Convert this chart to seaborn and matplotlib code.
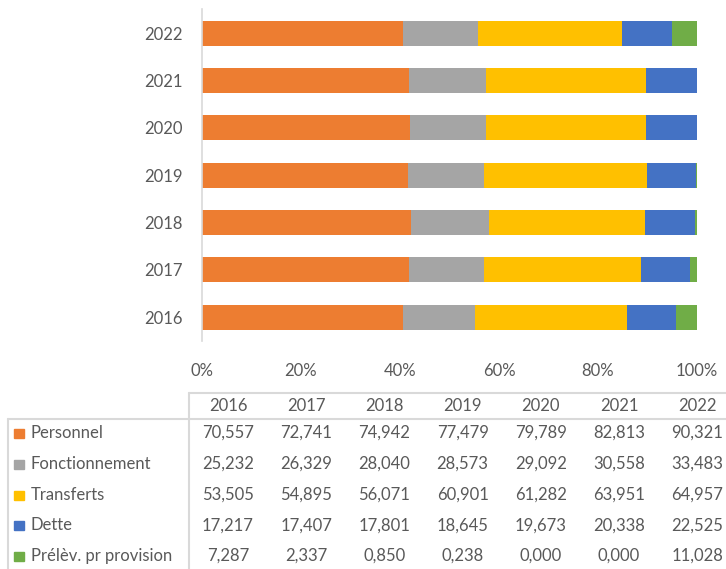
import matplotlib
matplotlib.use("Agg")
import matplotlib.pyplot as plt
from matplotlib.lines import Line2D
from matplotlib.patches import Rectangle
import seaborn as sns
import pandas as pd
import numpy as np

years = ["2016", "2017", "2018", "2019", "2020", "2021", "2022"]
series_names = ["Personnel", "Fonctionnement", "Transferts", "Dette", "Prélèv. pr provision"]
personnel = [70.557, 72.741, 74.942, 77.479, 79.789, 82.813, 90.321]
fonctionnement = [25.232, 26.329, 28.040, 28.573, 29.092, 30.558, 33.483]
transferts = [53.505, 54.895, 56.071, 60.901, 61.282, 63.951, 64.957]
dette = [17.217, 17.407, 17.801, 18.645, 19.673, 20.338, 22.525]
prelev = [7.287, 2.337, 0.850, 0.238, 0.000, 0.000, 11.028]
x_ticks = [0, 0.2, 0.4, 0.6, 0.8, 1.0]
x_tick_labels = ["0%", "20%", "40%", "60%", "80%", "100%"]

colors = ["#ED7D31", "#A5A5A5", "#FFC000", "#4472C4", "#70AD47"]
text_color = "#595959"
grid_color = "#D9D9D9"

sns.set_theme(style="white")
plt.rcParams["font.family"] = ["Lato", "DejaVu Sans"]

W, H = 726, 569
fig = plt.figure(figsize=(W / 100, H / 100), dpi=100)

def fx(x):
    return x / W

def fy(y):
    return 1 - y / H

ax_left, ax_right, ax_top, ax_bottom = 202, 697, 9.5, 340.7
ax = fig.add_axes([fx(ax_left), fy(ax_bottom), (ax_right - ax_left) / W, (ax_bottom - ax_top) / H])

series = [personnel, fonctionnement, transferts, dette, prelev]
arr = np.array(series)
totals = arr.sum(axis=0)
shares = arr / totals
cum = np.cumsum(shares, axis=0)

order = years[::-1]
for i in range(len(series) - 1, -1, -1):
    df = pd.DataFrame({"year": years, "value": cum[i]})
    sns.barplot(data=df, x="value", y="year", order=order, orient="y",
                color=colors[i], saturation=1, width=0.53, errorbar=None,
                ax=ax, linewidth=0)

ax.set_xlim(0, 1.0)
ax.set_xticks(x_ticks)
ax.set_xticklabels(x_tick_labels)
ax.set_xlabel("")
ax.set_ylabel("")
for s in ["top", "right", "bottom"]:
    ax.spines[s].set_visible(False)
ax.spines["left"].set_color(grid_color)
ax.spines["left"].set_linewidth(1.2)
ax.tick_params(axis="both", length=0, labelsize=12, labelcolor=text_color)
ax.tick_params(axis="y", pad=14)
ax.tick_params(axis="x", pad=16)
ax.set_facecolor("white")

# Data table
fs = 12
col_x = [228 + 78.2 * i for i in range(len(years))]
header_y = 406
row_y = [433, 464, 495, 525.5, 556]

fig.add_artist(Line2D([fx(189), fx(726)], [fy(393), fy(393)], color=grid_color, lw=1.5))
fig.add_artist(Line2D([fx(189), fx(189)], [fy(393), fy(569)], color=grid_color, lw=1.5))
fig.add_artist(Line2D([fx(8), fx(726)], [fy(418.5), fy(418.5)], color=grid_color, lw=1.5))
fig.add_artist(Line2D([fx(8), fx(8)], [fy(418.5), fy(569)], color=grid_color, lw=1.5))

for x, yr in zip(col_x, years):
    fig.text(fx(x), fy(header_y), yr, ha="center", va="center", fontsize=fs, color=text_color)

for r, (name, vals) in enumerate(zip(series_names, series)):
    y = row_y[r]
    fig.add_artist(Rectangle((fx(13.5), fy(y + 4.5)), 10 / W, 9 / H, color=colors[r], transform=fig.transFigure))
    fig.text(fx(31), fy(y), name, ha="left", va="center", fontsize=fs, color=text_color)
    for x, v in zip(col_x, vals):
        fig.text(fx(x), fy(y), f"{v:.3f}".replace(".", ","), ha="center", va="center",
                 fontsize=fs, color=text_color)

fig.savefig("out.png", dpi=100, facecolor="white")
